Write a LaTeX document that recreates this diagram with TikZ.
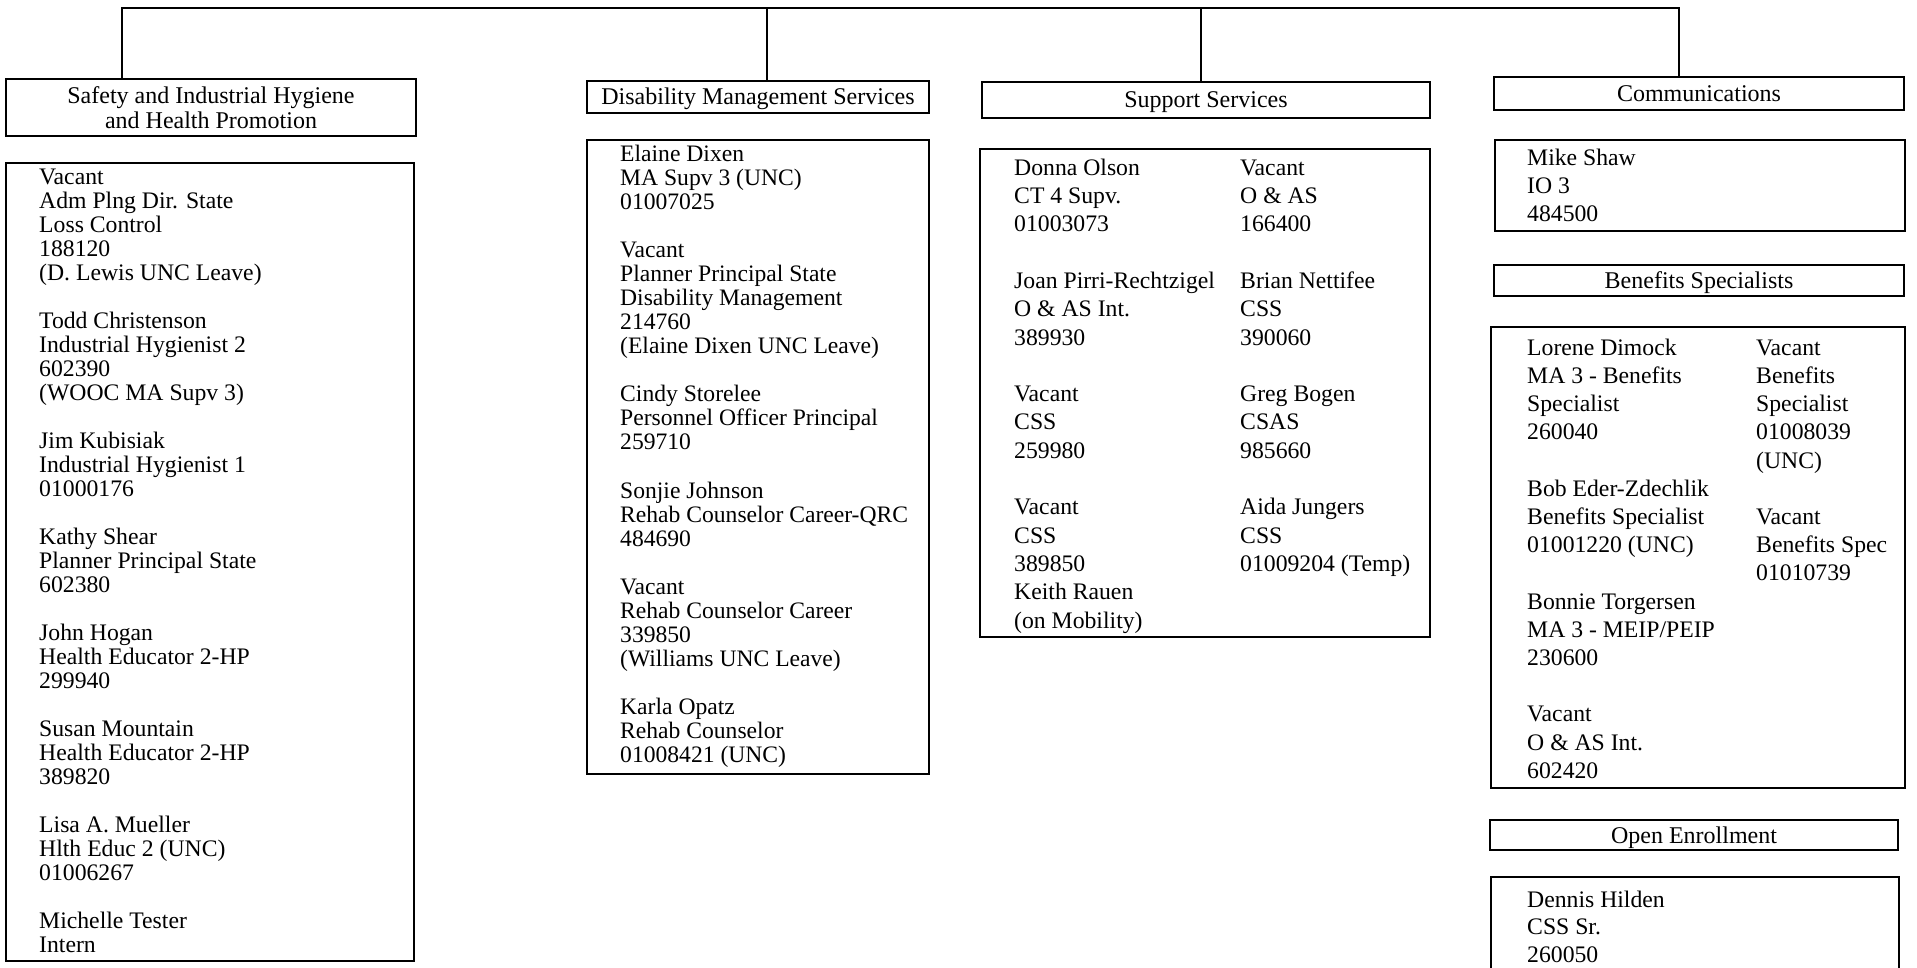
\documentclass[tikz,border=0pt]{standalone}
\usepackage{fontspec}
\setmainfont{Liberation Serif}
\usetikzlibrary{calc}
% fixed height for the first line of each staff block, so its baseline sits 18pt below the node top
\newcommand\ascstrut{\rule{0pt}{18pt}}
\tikzset{
  wire/.style={line width=2pt, line cap=rect},
  boxframe/.style={draw, line width=2.1pt, inner sep=0pt, anchor=north west},
  headbox/.style={draw, line width=2.1pt, inner sep=0pt, anchor=center, align=center,
                  font=\fontsize{24}{25}\selectfont},
  oneline/.style={text height=21pt, text depth=5pt},
  staffblk/.style 2 args={anchor=north west, inner sep=0pt, align=left,
                   font=\fontsize{#1}{#2}\selectfont}
}
\begin{document}
\begin{tikzpicture}[x=1pt, y=-1pt]
\useasboundingbox (0,0) rectangle (1917,968);
\clip (0,0) rectangle (1917,968);

% ---------- section headers ----------
\node[headbox, minimum width=410, minimum height=57] (safetyH) at (211,107.5)
  {Safety and Industrial Hygiene\\and Health Promotion};
\node[headbox, oneline, minimum width=342, minimum height=32] (disabH) at (758,97)
  {Disability Management Services};
\node[headbox, oneline, minimum width=448, minimum height=36] (suppH) at (1206,100)
  {Support Services};
\node[headbox, oneline, minimum width=410, minimum height=33] (commH) at (1699,93.5)
  {Communications};
\node[headbox, oneline, minimum width=410, minimum height=31] (benH) at (1699,280.5)
  {Benefits Specialists};
\node[headbox, oneline, minimum width=408, minimum height=30] (openH) at (1694,835)
  {Open Enrollment};

% ---------- reporting lines ----------
\coordinate (j1) at (122,8);
\coordinate (j2) at (767,8);
\coordinate (j3) at (1201,8);
\coordinate (j4) at (1679,8);
\draw[wire] (j1) -- (j4);
\draw[wire] (j1) -- (j1 |- safetyH.north);
\draw[wire] (j2) -- (j2 |- disabH.north);
\draw[wire] (j3) -- (j3 |- suppH.north);
\draw[wire] (j4) -- (j4 |- commH.north);

% ---------- staff frames ----------
\node[boxframe, minimum width=408, minimum height=798] (safetyB) at (5,162) {};
\node[boxframe, minimum width=342, minimum height=634] (disabB) at (586,139) {};
\node[boxframe, minimum width=450, minimum height=488] (suppB) at (979,148) {};
\node[boxframe, minimum width=410, minimum height=91] (commB) at (1494,139) {};
\node[boxframe, minimum width=414, minimum height=461] (benB) at (1490,326) {};
\node[boxframe, minimum width=408, minimum height=120] (openB) at (1490,876) {};

% ---------- Safety and Industrial Hygiene staff ----------
\node[staffblk={23.7}{24}] (sa1) at (39,166) {\ascstrut Vacant\\Adm Plng Dir. State\\Loss Control\\188120\\(D. Lewis UNC Leave)};
\node[staffblk={23.7}{24}] (sa2) at (39,310) {\ascstrut Todd Christenson\\Industrial Hygienist 2\\602390\\(WOOC MA Supv 3)};
\node[staffblk={23.7}{24}] (sa3) at (39,430) {\ascstrut Jim Kubisiak\\Industrial Hygienist 1\\01000176};
\node[staffblk={23.7}{24}] (sa4) at (39,526) {\ascstrut Kathy Shear\\Planner Principal State\\602380};
\node[staffblk={23.7}{24}] (sa5) at (39,622) {\ascstrut John Hogan\\Health Educator 2-HP\\299940};
\node[staffblk={23.7}{24}] (sa6) at (39,718) {\ascstrut Susan Mountain\\Health Educator 2-HP\\389820};
\node[staffblk={23.7}{24}] (sa7) at (39,814) {\ascstrut Lisa A. Mueller\\Hlth Educ 2 (UNC)\\01006267};
\node[staffblk={23.7}{24}] (sa8) at (39,910) {\ascstrut Michelle Tester\\Intern};

% ---------- Disability Management Services staff ----------
\node[staffblk={23.6}{24.06}] (di1) at (620,143) {\ascstrut Elaine Dixen\\MA Supv 3 (UNC)\\01007025};
\node[staffblk={23.6}{24.06}] (di2) at (620,239.2) {\ascstrut Vacant\\Planner Principal State\\Disability Management\\214760\\(Elaine Dixen UNC Leave)};
\node[staffblk={23.6}{24.06}] (di3) at (620,383.6) {\ascstrut Cindy Storelee\\Personnel Officer Principal\\259710};
\node[staffblk={23.6}{24.06}] (di4) at (620,479.8) {\ascstrut Sonjie Johnson\\Rehab Counselor Career-QRC\\484690};
\node[staffblk={23.6}{24.06}] (di5) at (620,576.1) {\ascstrut Vacant\\Rehab Counselor Career\\339850\\(Williams UNC Leave)};
\node[staffblk={23.6}{24.06}] (di6) at (620,696.4) {\ascstrut Karla Opatz\\Rehab Counselor\\01008421 (UNC)};

% ---------- Support Services staff ----------
\node[staffblk={23.7}{28.3}] (su1) at (1014,157) {\ascstrut Donna Olson\\CT 4 Supv.\\01003073};
\node[staffblk={23.7}{28.3}] (su2) at (1014,270.2) {\ascstrut Joan Pirri-Rechtzigel\\O \& AS Int.\\389930};
\node[staffblk={23.7}{28.3}] (su3) at (1014,383.4) {\ascstrut Vacant\\CSS\\259980};
\node[staffblk={23.7}{28.3}] (su4) at (1014,496.6) {\ascstrut Vacant\\CSS\\389850\\Keith Rauen\\(on Mobility)};
\node[staffblk={23.7}{28.3}] (su5) at (1240,157) {\ascstrut Vacant\\O \& AS\\166400};
\node[staffblk={23.7}{28.3}] (su6) at (1240,270.2) {\ascstrut Brian Nettifee\\CSS\\390060};
\node[staffblk={23.7}{28.3}] (su7) at (1240,383.4) {\ascstrut Greg Bogen\\CSAS\\985660};
\node[staffblk={23.7}{28.3}] (su8) at (1240,496.6) {\ascstrut Aida Jungers\\CSS\\01009204 (Temp)};

% ---------- Communications ----------
\node[staffblk={23.7}{28.2}] (co1) at (1527,147) {\ascstrut Mike Shaw\\IO 3\\484500};

% ---------- Benefits Specialists ----------
\node[staffblk={23.7}{28.2}] (be1) at (1527,337) {\ascstrut Lorene Dimock\\MA 3 - Benefits\\Specialist\\260040};
\node[staffblk={23.7}{28.2}] (be2) at (1527,478) {\ascstrut Bob Eder-Zdechlik\\Benefits Specialist\\01001220 (UNC)};
\node[staffblk={23.7}{28.2}] (be3) at (1527,590.8) {\ascstrut Bonnie Torgersen\\MA 3 - MEIP/PEIP\\230600};
\node[staffblk={23.7}{28.2}] (be4) at (1527,703.6) {\ascstrut Vacant\\O \& AS Int.\\602420};
\node[staffblk={23.7}{28.2}] (be5) at (1756,337) {\ascstrut Vacant\\Benefits\\Specialist\\01008039\\(UNC)};
\node[staffblk={23.7}{28.2}] (be6) at (1756,506.2) {\ascstrut Vacant\\Benefits Spec\\01010739};

% ---------- Open Enrollment ----------
\node[staffblk={23.7}{27.6}] (op1) at (1527,889) {\ascstrut Dennis Hilden\\CSS Sr.\\260050};
\end{tikzpicture}
\end{document}
